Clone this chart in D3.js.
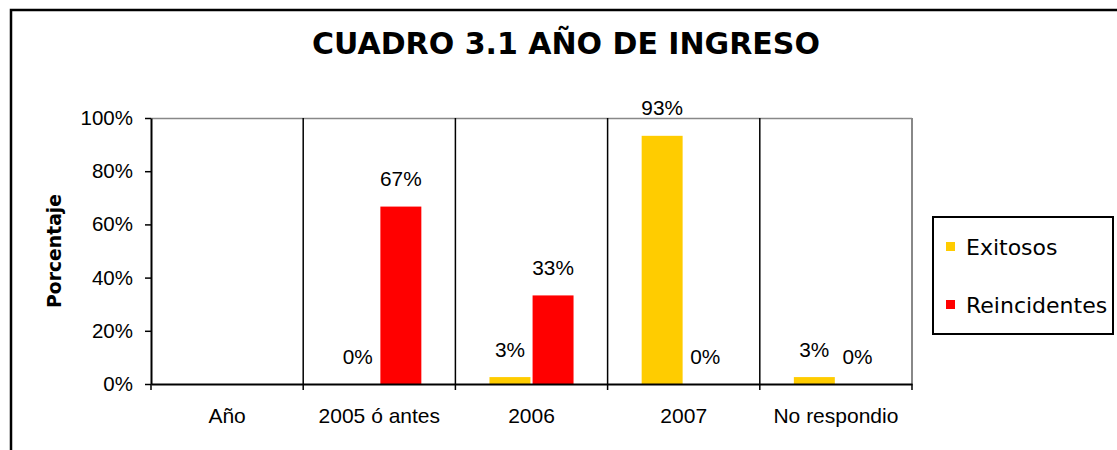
<!DOCTYPE html>
<html>
<head>
<meta charset="utf-8">
<script src="https://cdn.jsdelivr.net/npm/d3@7"></script>
<style>
  body { margin: 0; background: #fff; }
  svg text { fill: #000; }
</style>
</head>
<body>
<div id="chart"></div>
<script>
const categorias = ['Año', '2005 ó antes', '2006', '2007', 'No respondio'];
const exitosos = [null, 0, 0.026, 0.933, 0.026];
const reincidentes = [null, 0.667, 0.333, 0, 0];
const series = ['Exitosos', 'Reincidentes'];
const colores = ['#ffcc00', '#ff0000'];
const ticksY = [0, 0.2, 0.4, 0.6, 0.8, 1];

const width = 1117, height = 450;
const margin = { top: 118, right: 205, bottom: 66, left: 151 };
const innerW = width - margin.left - margin.right;
const innerH = height - margin.top - margin.bottom;
const fArial = 'Liberation Sans, Arial, sans-serif';
const fVerdana = 'DejaVu Sans, Verdana, sans-serif';

const svg = d3.select('#chart').append('svg')
  .attr('width', width)
  .attr('height', height);

// marco exterior
svg.append('rect')
  .attr('x', 11).attr('y', 10)
  .attr('width', width + 20).attr('height', height + 20)
  .attr('fill', 'none')
  .attr('stroke', '#000')
  .attr('stroke-width', 2.5);

svg.append('text')
  .attr('x', 566).attr('y', 53.5)
  .attr('text-anchor', 'middle')
  .style('font-family', fVerdana)
  .style('font-weight', 'bold')
  .style('font-size', '30px')
  .text('CUADRO 3.1 AÑO DE INGRESO');

const g = svg.append('g').attr('transform', `translate(${margin.left},${margin.top})`);

const x0 = d3.scaleBand().domain(categorias).range([0, innerW]).paddingInner(0).paddingOuter(0);
const x1 = d3.scaleBand().domain(series).range([0, x0.bandwidth()]).paddingInner(0.05).paddingOuter(0.79);
const y = d3.scaleLinear().domain([0, 1]).range([innerH, 0]);

// borde superior y derecho gris
g.append('line').attr('x1', 0).attr('x2', innerW).attr('y1', 0.5).attr('y2', 0.5)
  .attr('stroke', '#888').attr('stroke-width', 1.5);
g.append('line').attr('x1', innerW).attr('x2', innerW).attr('y1', 0).attr('y2', innerH)
  .attr('stroke', '#888').attr('stroke-width', 2);

// separadores de categorias
g.selectAll('line.sep')
  .data(categorias.slice(1))
  .join('line')
  .attr('class', 'sep')
  .attr('x1', d => x0(d)).attr('x2', d => x0(d))
  .attr('y1', 0).attr('y2', innerH + 6)
  .attr('stroke', '#000').attr('stroke-width', 1.5);

const datos = categorias.map((c, i) => ({ cat: c, vals: [exitosos[i], reincidentes[i]] }));

const grupos = g.selectAll('g.grupo')
  .data(datos)
  .join('g')
  .attr('class', 'grupo')
  .attr('transform', d => `translate(${x0(d.cat)},0)`);

grupos.selectAll('rect')
  .data(d => d.vals.map((v, j) => ({ serie: series[j], v: v, j: j })).filter(e => e.v !== null))
  .join('rect')
  .attr('x', d => x1(d.serie))
  .attr('width', x1.bandwidth())
  .attr('y', d => y(d.v))
  .attr('height', d => innerH - y(d.v))
  .attr('fill', d => colores[d.j]);

grupos.selectAll('text.valor')
  .data(d => d.vals.map((v, j) => ({ serie: series[j], v: v })).filter(e => e.v !== null))
  .join('text')
  .attr('class', 'valor')
  .attr('x', d => x1(d.serie) + x1.bandwidth() / 2)
  .attr('y', d => y(d.v) - 20.5)
  .attr('text-anchor', 'middle')
  .style('font-family', fArial)
  .style('font-size', '20.8px')
  .text(d => d3.format('.0%')(d.v));

// eje Y
const ejeY = g.append('g')
  .call(d3.axisLeft(y).tickValues(ticksY).tickFormat(d3.format('.0%')).tickSize(6).tickSizeOuter(0));
ejeY.select('.domain').attr('stroke', '#000').attr('stroke-width', 2);
ejeY.selectAll('.tick line').attr('stroke', '#000').attr('stroke-width', 1.5);
ejeY.selectAll('.tick text')
  .attr('x', -18)
  .style('font-family', fArial)
  .style('font-size', '20.5px');

// eje X
const ejeX = g.append('g')
  .attr('transform', `translate(0,${innerH})`)
  .call(d3.axisBottom(x0).tickSize(0).tickPadding(24));
ejeX.select('.domain').attr('stroke', '#000').attr('stroke-width', 2);
ejeX.selectAll('.tick text')
  .style('font-family', fArial)
  .style('font-size', '21px');
g.selectAll('line.tickx')
  .data([0, innerW])
  .join('line')
  .attr('class', 'tickx')
  .attr('x1', d => d).attr('x2', d => d)
  .attr('y1', innerH).attr('y2', innerH + 6)
  .attr('stroke', '#000').attr('stroke-width', 1.5);

svg.append('text')
  .attr('transform', `translate(61,${margin.top + innerH / 2}) rotate(-90)`)
  .attr('text-anchor', 'middle')
  .style('font-family', fVerdana)
  .style('font-weight', 'bold')
  .style('font-size', '18.8px')
  .text('Porcentaje');

// leyenda
const ley = svg.append('g').attr('transform', 'translate(933,217)');
ley.append('rect')
  .attr('width', 180).attr('height', 117)
  .attr('fill', '#fff').attr('stroke', '#000').attr('stroke-width', 2);
const items = ley.selectAll('g.item')
  .data(series)
  .join('g')
  .attr('class', 'item')
  .attr('transform', (d, i) => `translate(13,${38 + i * 58})`);
items.append('rect')
  .attr('x', 0).attr('y', -13).attr('width', 9).attr('height', 9)
  .attr('fill', (d, i) => colores[i]);
items.append('text')
  .attr('x', 20).attr('y', 0)
  .style('font-family', fVerdana)
  .style('font-size', '22px')
  .text(d => d);
</script>
</body>
</html>
